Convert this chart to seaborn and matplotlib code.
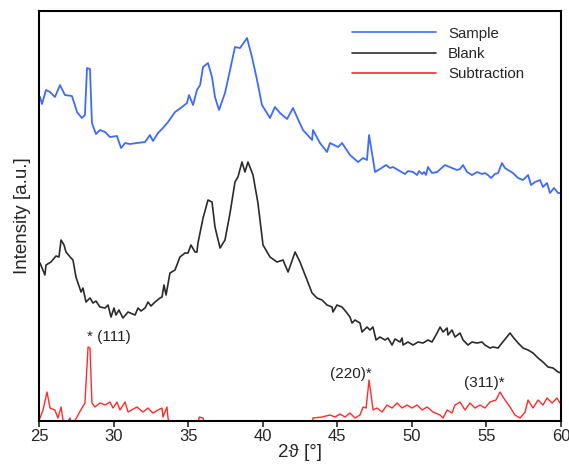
import numpy as np
import pandas as pd
import seaborn as sns
import matplotlib
matplotlib.use("Agg")
import matplotlib.pyplot as plt

# 2theta [deg] and intensity [a.u.]
sample_x = [25.07, 25.20, 25.47, 25.74, 26.07, 26.41, 26.74, 27.21, 27.55, 27.88, 28.08, 28.22, 28.42,
            28.55, 28.82, 29.09, 29.43, 29.76, 30.23, 30.50, 30.77, 31.10, 31.57, 32.11, 32.44, 32.64,
            32.98, 33.31, 33.65, 34.12, 34.59, 34.92, 35.06, 35.33, 35.59, 35.80, 36.00, 36.33, 36.60,
            36.80, 37.07, 37.47, 37.81, 38.14, 38.48, 38.95, 39.28, 39.62, 39.95, 40.49, 40.82, 41.16,
            41.63, 42.03, 42.30, 42.70, 43.31, 43.37, 43.84, 44.31, 44.51, 45.05, 45.32, 45.85, 46.39,
            46.73, 46.99, 47.13, 47.53, 47.86, 48.27, 48.53, 48.74, 49.07, 49.54, 49.74, 50.08, 50.35,
            50.48, 50.69, 50.82, 50.95, 51.08, 51.35, 51.69, 52.22, 52.69, 53.03, 53.23, 53.43, 53.70,
            54.03, 54.37, 54.70, 54.90, 55.10, 55.31, 55.57, 55.78, 56.04, 56.24, 56.45, 56.78, 57.12,
            57.45, 57.79, 57.99, 58.26, 58.59, 58.79, 59.06, 59.26, 59.53, 59.80, 60.00]
sample_y = [324, 317, 331, 329, 324, 336, 326, 325, 309, 303, 306, 353, 352,
            298, 287, 291, 289, 284, 285, 273, 278, 277, 278, 279, 286, 280,
            288, 293, 299, 309, 314, 318, 326, 316, 331, 336, 354, 358, 344,
            324, 311, 328, 351, 374, 373, 383, 364, 341, 316, 303, 314, 308,
            302, 313, 304, 291, 281, 291, 278, 269, 278, 274, 278, 266, 259,
            263, 261, 286, 249, 252, 256, 253, 254, 251, 247, 250, 249, 246,
            250, 247, 249, 246, 254, 248, 249, 256, 253, 251, 252, 256, 249,
            246, 249, 247, 248, 246, 243, 247, 248, 258, 253, 251, 248, 243,
            241, 246, 236, 239, 241, 234, 238, 228, 233, 228, 228]

blank_x = [25.07, 25.40, 25.47, 25.80, 26.14, 26.34, 26.48, 26.68, 26.81, 27.15, 27.28, 27.48, 27.82,
           27.95, 28.15, 28.42, 28.62, 28.82, 29.09, 29.43, 29.63, 29.83, 30.03, 30.16, 30.36, 30.63,
           30.97, 31.44, 31.64, 31.84, 32.11, 32.31, 32.51, 32.78, 33.11, 33.25, 33.38, 33.52, 33.78,
           34.12, 34.45, 34.79, 34.99, 35.19, 35.46, 35.59, 35.66, 36.00, 36.33, 36.60, 36.80, 37.14,
           37.47, 37.81, 38.14, 38.34, 38.61, 38.81, 39.01, 39.35, 39.68, 40.02, 40.49, 40.96, 41.36,
           41.70, 42.17, 42.50, 42.97, 43.31, 43.64, 43.98, 44.31, 44.65, 44.71, 44.98, 45.32, 45.65,
           45.85, 45.99, 46.19, 46.52, 46.66, 46.99, 47.19, 47.39, 47.60, 47.86, 48.20, 48.40, 48.67,
           48.87, 49.21, 49.34, 49.41, 49.74, 50.08, 50.41, 50.75, 51.08, 51.35, 51.69, 51.89, 52.09,
           52.36, 52.42, 52.69, 52.89, 53.23, 53.43, 53.76, 54.03, 54.37, 54.70, 54.90, 55.24, 55.44,
           55.78, 56.04, 56.31, 56.58, 56.78, 57.12, 57.45, 57.79, 58.12, 58.46, 58.79, 59.13, 59.46,
           59.80, 60.00]
blank_y = [158, 146, 156, 159, 165, 164, 181, 176, 169, 163, 161, 144, 129,
           133, 119, 123, 118, 120, 114, 113, 116, 104, 113, 106, 111, 103,
           109, 106, 113, 110, 113, 119, 115, 119, 123, 124, 136, 126, 148,
           151, 164, 168, 168, 176, 169, 169, 178, 203, 221, 219, 194, 173,
           181, 208, 239, 244, 259, 249, 259, 246, 218, 176, 164, 159, 161,
           149, 169, 159, 141, 128, 123, 121, 116, 114, 109, 116, 114, 108,
           104, 98, 101, 98, 89, 94, 91, 94, 81, 84, 81, 83, 76,
           82, 79, 83, 76, 79, 76, 79, 78, 81, 79, 88, 94, 89,
           93, 86, 91, 84, 88, 81, 76, 79, 78, 79, 76, 73, 74,
           73, 78, 83, 88, 84, 78, 73, 71, 68, 63, 59, 54, 53,
           49, 48]

sub_x = [25.07, 25.27, 25.54, 25.74, 26.07, 26.27, 26.48, 26.61, 26.74, 27.08, 27.21, 27.62, 27.88,
         28.08, 28.29, 28.42, 28.55, 28.75, 29.09, 29.43, 29.76, 29.96, 30.23, 30.43, 30.77, 30.97,
         31.57, 31.97, 32.31, 32.64, 32.98, 33.25, 33.31, 33.58, 33.65, 33.78, 35.60, 35.75, 36.00,
         36.15, 43.30, 43.37, 43.98, 44.51, 44.85, 45.18, 45.52, 45.85, 46.19, 46.52, 46.73, 46.93,
         47.13, 47.40, 47.67, 48.00, 48.33, 48.67, 49.01, 49.34, 49.68, 50.01, 50.35, 50.69, 51.02,
         51.42, 51.89, 52.09, 52.36, 52.69, 52.89, 53.23, 53.56, 53.90, 54.23, 54.57, 54.90, 55.24,
         55.64, 55.91, 56.24, 56.58, 56.91, 57.25, 57.59, 57.79, 58.12, 58.46, 58.79, 59.06, 59.40,
         59.73, 59.93]
sub_y = [3, 11, 29, 13, 11, 3, 14, 1, -5, 3, -5, 6, 13,
         18, 74, 73, 18, 14, 18, 16, 19, 13, 19, 11, 19, 9,
         14, 9, 13, 8, 11, 13, 4, 14, 3, -5, -5, 4, 3,
         -5, -5, 3, 4, 6, 4, 7, 4, 8, 3, 6, 14, 13,
         41, 11, 13, 9, 16, 13, 18, 13, 16, 13, 16, 11, 14,
         9, 6, 3, 11, 8, 16, 19, 11, 18, 13, 16, 13, 19,
         21, 29, 21, 14, 6, 3, 9, 21, 13, 21, 16, 23, 18,
         23, 18]

series_names = ["Sample", "Blank", "Subtraction"]
colors = {"Sample": "#3d6bff", "Blank": "#2b2b2b", "Subtraction": "#ff2a2a"}

df = pd.concat([
    pd.DataFrame({"theta": sample_x, "I": sample_y, "series": "Sample"}),
    pd.DataFrame({"theta": blank_x, "I": blank_y, "series": "Blank"}),
    pd.DataFrame({"theta": sub_x, "I": sub_y, "series": "Subtraction"}),
])

sns.set_style("ticks")
plt.rcParams['font.family'] = ['Liberation Sans', 'DejaVu Sans']

fig = plt.figure(figsize=(5.69, 4.65), dpi=100)
ax = fig.add_axes([0.0685, 0.0946, 0.9175, 0.8817])

widths = {"Sample": 1.3, "Blank": 1.2, "Subtraction": 1.0}
for name in series_names:
    sub = df[df["series"] == name]
    sns.lineplot(data=sub, x="theta", y="I", color=colors[name], lw=widths[name],
                 label=name, ax=ax, estimator=None, sort=False)

ax.set_xlim(25, 60)
ax.set_ylim(0, 410)
ax.set_yticks([])
ax.set_xticks([25, 30, 35, 40, 45, 50, 55, 60])
ax.tick_params(axis="x", labelsize=12, length=4, width=1.2, direction="out", pad=2)
for sp in ax.spines.values():
    sp.set_linewidth(1.5)
    sp.set_color("black")

ax.set_xlabel("2\u03d1 [\u00b0]", fontsize=13.5, labelpad=0)
ax.set_ylabel("Intensity [a.u.]", fontsize=13.5, labelpad=6)

ax.text(28.25, 84, "* (111)", fontsize=11, ha="left", va="center", color="#222222")
ax.text(45.9, 47, "(220)*", fontsize=11, ha="center", va="center", color="#222222")
ax.text(54.85, 38, "(311)*", fontsize=11, ha="center", va="center", color="#222222")

leg = ax.legend(loc="upper right", bbox_to_anchor=(0.955, 0.995), frameon=False,
                fontsize=10.8, handlelength=5.6, handletextpad=0.8, labelspacing=0.42)
for line in leg.get_lines():
    line.set_linewidth(1.2)

fig.savefig("out.png", dpi=100)
